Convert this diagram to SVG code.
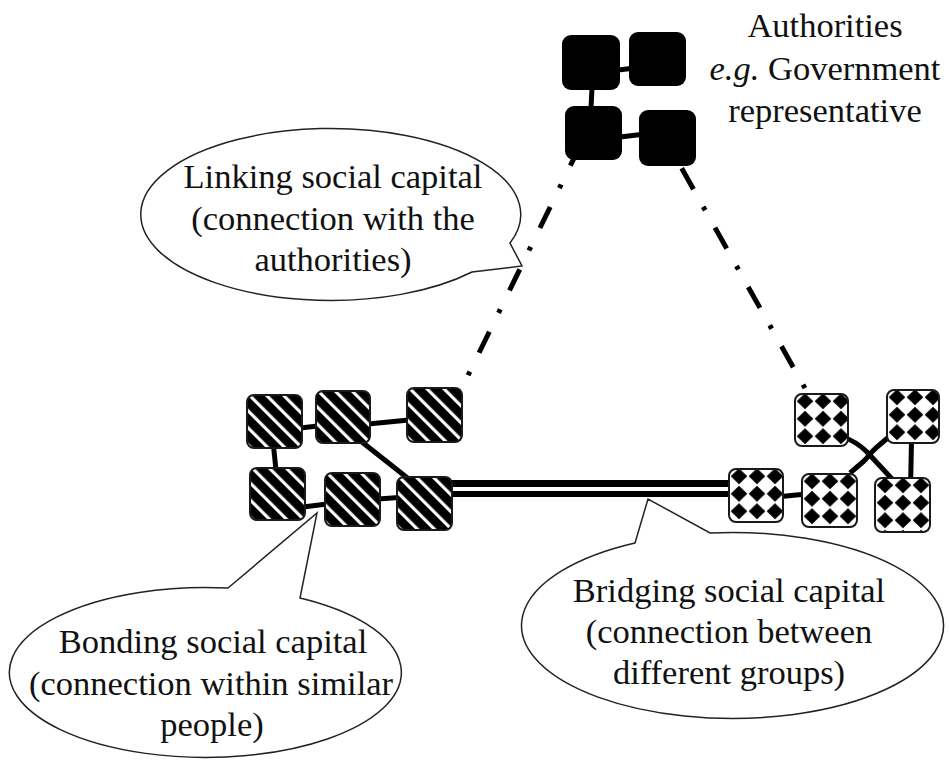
<svg xmlns="http://www.w3.org/2000/svg" width="949" height="763" viewBox="0 0 949 763">
  <defs>
    <!-- diagonal stripes for the community group on the left -->
    <pattern id="stripes" patternUnits="userSpaceOnUse" width="12" height="12" patternTransform="rotate(-45)">
      <rect width="12" height="12" fill="#000"/>
      <rect width="3.2" height="12" fill="#fff"/>
    </pattern>
    <!-- solid-diamond fill for the community group on the right -->
    <pattern id="diamonds" patternUnits="userSpaceOnUse" x="1" y="-1.5" width="18" height="17.5">
      <rect width="18" height="17.5" fill="#fff"/>
      <polygon points="9,0.7 17.3,8.75 9,16.8 0.7,8.75" fill="#000"/>
    </pattern>
  </defs>
  <style>
    .solid { fill: #000; }
    .striped { fill: url(#stripes); stroke: #1a1a1a; stroke-width: 2; }
    .dotted { fill: url(#diamonds); stroke: #1a1a1a; stroke-width: 2; }
    .link { fill: none; stroke: #000; stroke-width: 5; stroke-linejoin: round; }
    .dashdot { fill: none; stroke: #000; stroke-width: 5; }
    .bubble { fill: #fff; stroke: #222; stroke-width: 1.5; }
    text { font-family: "Liberation Serif", "Times New Roman", serif; font-size: 34.5px; fill: #111; text-anchor: middle; }
  </style>

  <rect width="949" height="763" fill="#fff"/>

  <!-- callout bubbles -->
  <g id="callout-linking">
    <path class="bubble" d="M510,243 A190,86 0 1 0 472,272 L522,266 Z"/>
    <text x="333" y="188">Linking social capital</text>
    <text x="333" y="229.5">(connection with the</text>
    <text x="333" y="271">authorities)</text>
  </g>
  <g id="callout-bonding">
    <path class="bubble" d="M228,588 L317,513 L300,598 A196,85 0 1 1 228,588 Z"/>
    <text x="213" y="653">Bonding social capital</text>
    <text x="211" y="694.5">(connection within similar</text>
    <text x="212" y="736">people)</text>
  </g>
  <g id="callout-bridging">
    <path class="bubble" d="M635,543 L648,499 L710,533 A211,93 0 1 1 635,543 Z"/>
    <text x="729" y="602">Bridging social capital</text>
    <text x="729" y="643">(connection between</text>
    <text x="729" y="683.5">different groups)</text>
  </g>

  <!-- connectors -->
  <g id="connectors">
    <!-- linking ties to the authorities -->
    <line class="dashdot" x1="580.6" y1="144.6" x2="467.5" y2="376.5" stroke-dasharray="23.4 21 4 21"/>
    <line class="dashdot" x1="681.7" y1="168.3" x2="805" y2="388.2" stroke-dasharray="24 20 4 20"/>
    <!-- bridging tie between the two groups -->
    <line x1="450" y1="488.5" x2="731" y2="488.5" stroke="#000" stroke-width="17"/>
    <line x1="450" y1="489" x2="731" y2="489" stroke="#fff" stroke-width="4"/>
    <!-- authorities cluster -->
    <line class="link" x1="618" y1="70" x2="631" y2="68.5"/>
    <line class="link" x1="592" y1="88" x2="591" y2="108"/>
    <line class="link" x1="620" y1="137" x2="641" y2="134.5"/>
    <!-- striped cluster -->
    <line class="link" x1="300" y1="428" x2="318" y2="426"/>
    <line class="link" x1="368" y1="424" x2="409" y2="420"/>
    <line class="link" x1="273.5" y1="446" x2="276" y2="470"/>
    <line class="link" x1="303" y1="507" x2="327" y2="504"/>
    <line class="link" x1="378" y1="499" x2="399" y2="497.5"/>
    <line class="link" x1="362" y1="442" x2="410" y2="480"/>
    <!-- diamond cluster -->
    <line class="link" x1="781" y1="496.5" x2="804" y2="494.3"/>
    <path class="link" d="M843,437 C852,440 860,445 867,452 L893,480"/>
    <path class="link" d="M890,436 L877,447 C871,452 868,457 864,461 L850,473"/>
    <line class="link" x1="911.5" y1="441" x2="910.7" y2="480"/>
  </g>

  <!-- authorities -->
  <g id="authority-1" transform="translate(562,35)"><rect class="solid" width="58" height="55" rx="9"/></g>
  <g id="authority-2" transform="translate(629,32)"><rect class="solid" width="57" height="54" rx="9"/></g>
  <g id="authority-3" transform="translate(565,106)"><rect class="solid" width="57" height="54" rx="9"/></g>
  <g id="authority-4" transform="translate(639,110)"><rect class="solid" width="57" height="56" rx="9"/></g>

  <!-- striped group -->
  <g id="striped-1" transform="translate(247,395)"><rect class="striped" width="55" height="53" rx="7"/></g>
  <g id="striped-2" transform="translate(316,391)"><rect class="striped" width="54" height="52" rx="7"/></g>
  <g id="striped-3" transform="translate(407,388)"><rect class="striped" width="55" height="54" rx="7"/></g>
  <g id="striped-4" transform="translate(250,468)"><rect class="striped" width="55" height="52" rx="7"/></g>
  <g id="striped-5" transform="translate(325,473)"><rect class="striped" width="55" height="53" rx="7"/></g>
  <g id="striped-6" transform="translate(397,477)"><rect class="striped" width="55" height="53" rx="7"/></g>

  <!-- diamond group -->
  <g id="diamond-1" transform="translate(795,394)"><rect class="dotted" width="53" height="52" rx="7"/></g>
  <g id="diamond-2" transform="translate(887,390)"><rect class="dotted" width="52" height="53" rx="7"/></g>
  <g id="diamond-3" transform="translate(729,469)"><rect class="dotted" width="54" height="53" rx="7"/></g>
  <g id="diamond-4" transform="translate(802,474)"><rect class="dotted" width="55" height="53" rx="7"/></g>
  <g id="diamond-5" transform="translate(875,478)"><rect class="dotted" width="55" height="54" rx="7"/></g>

  <!-- caption for the authorities -->
  <g id="authorities-label">
    <text x="825" y="37">Authorities</text>
    <text x="825" y="80"><tspan font-style="italic">e.g.</tspan> Government</text>
    <text x="825" y="122">representative</text>
  </g>
</svg>
